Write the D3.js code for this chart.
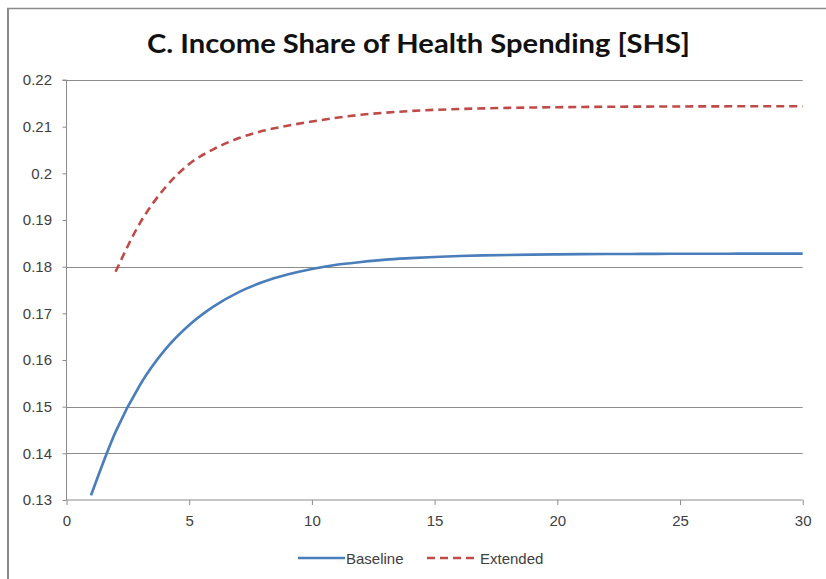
<!DOCTYPE html>
<html>
<head>
<meta charset="utf-8">
<script src="https://cdn.jsdelivr.net/npm/d3@7/dist/d3.min.js"></script>
<style>
  html, body { margin: 0; padding: 0; background: #fff; }
  svg { display: block; }
</style>
</head>
<body>
<svg id="chart" width="826" height="579"></svg>
<script>
// Periods (x) and income share of health spending for each scenario
const baselineX = [1,2,3,4,5,6,7,8,9,10,11,12,13,14,15,16,17,18,19,20,21,22,23,24,25,26,27,28,29,30];
const baselineY = [0.13100,0.14460,0.15470,0.16210,0.16750,0.17150,0.17450,0.17670,0.17830,0.17950,
                   0.18040,0.18100,0.18150,0.18182,0.18208,0.18227,0.18241,0.18251,0.18259,0.18264,
                   0.18268,0.18271,0.18273,0.18275,0.18276,0.18277,0.18278,0.18279,0.18279,0.18280];
const extendedX = [2,3,4,5,6,7,8,9,10,11,12,13,14,15,16,17,18,19,20,21,22,23,24,25,26,27,28,29,30];
const extendedY = [0.17890,0.18940,0.19680,0.20200,0.20520,0.20750,0.20910,0.21020,0.21110,0.21190,
                   0.21255,0.21300,0.21335,0.21360,0.21378,0.21392,0.21403,0.21411,0.21417,0.21422,
                   0.21426,0.21429,0.21431,0.21433,0.21435,0.21436,0.21437,0.21438,0.21439];
const seriesNames = ["Baseline", "Extended"];
const yTicks = [0.13,0.14,0.15,0.16,0.17,0.18,0.19,0.20,0.21,0.22];
const yTickLabels = ["0.13","0.14","0.15","0.16","0.17","0.18","0.19","0.2","0.21","0.22"];
const gridValues = [0.14,0.15,0.18,0.22];
const xTicks = [0,5,10,15,20,25,30];
const title = "C. Income Share of Health Spending [SHS]";

const svg = d3.select("#chart");
const plot = {left: 66.5, right: 802.7, top: 80, bottom: 500};

const x = d3.scaleLinear().domain([0, 30]).range([plot.left, plot.right]);
const y = d3.scaleLinear().domain([0.13, 0.22]).range([plot.bottom, plot.top]);

const axisColor = "#8c8c8c";
const textColor = "#404040";
const font = "'Liberation Sans', Arial, sans-serif";

// Frame (top and left edges)
svg.append("line").attr("x1", 7).attr("x2", 826).attr("y1", 8.5).attr("y2", 8.5)
  .attr("stroke", "#8a8a8a").attr("stroke-width", 1.5);
svg.append("line").attr("x1", 8).attr("x2", 8).attr("y1", 8).attr("y2", 579)
  .attr("stroke", "#8a8a8a").attr("stroke-width", 2);

// Title
svg.append("text")
  .attr("x", 147).attr("y", 53)
  .attr("font-family", "Lato, 'Open Sans', sans-serif")
  .attr("font-weight", "bold")
  .attr("font-size", 27)
  .attr("fill", "#111")
  .attr("textLength", 543)
  .attr("lengthAdjust", "spacingAndGlyphs")
  .text(title);

// Horizontal gridlines
svg.append("g").selectAll("line").data(gridValues).join("line")
  .attr("x1", plot.left).attr("x2", plot.right)
  .attr("y1", d => Math.round(y(d)) + 0.5).attr("y2", d => Math.round(y(d)) + 0.5)
  .attr("stroke", axisColor).attr("stroke-width", 1);

// Y axis
const yAxis = d3.axisLeft(y).tickValues(yTicks)
  .tickFormat((d, i) => yTickLabels[i]).tickSize(4).tickPadding(10.5);
const gy = svg.append("g").attr("transform", `translate(${plot.left},0)`).call(yAxis);
gy.select(".domain").attr("stroke", axisColor).attr("d", `M-4,${plot.top}H0V${plot.bottom}`);
gy.selectAll(".tick line").attr("stroke", axisColor);
gy.selectAll(".tick text").attr("font-family", font).attr("font-size", 15).attr("fill", textColor);

// X axis
const xAxis = d3.axisBottom(x).tickValues(xTicks).tickSize(5).tickPadding(10);
const gx = svg.append("g").attr("transform", `translate(0,${plot.bottom})`).call(xAxis);
gx.select(".domain").attr("stroke", axisColor).attr("d", `M${plot.left},0H${plot.right}`);
gx.selectAll(".tick line").attr("stroke", axisColor);
gx.selectAll(".tick text").attr("font-family", font).attr("font-size", 15).attr("fill", textColor);

// Series lines
const line = d3.line().x(d => x(d[0])).y(d => y(d[1])).curve(d3.curveMonotoneX);
const baseline = baselineX.map((v, i) => [v, baselineY[i]]);
const extended = extendedX.map((v, i) => [v, extendedY[i]]);

const blue = "#4a7ebb";
const red = "#be4b48";

svg.append("path").datum(baseline)
  .attr("d", line).attr("fill", "none")
  .attr("stroke", blue).attr("stroke-width", 2.6);
svg.append("path").datum(extended)
  .attr("d", line).attr("fill", "none")
  .attr("stroke", red).attr("stroke-width", 2.6)
  .attr("stroke-dasharray", "8,5");

// Legend
const legend = svg.append("g");
const legendItems = [
  {name: seriesNames[0], color: blue, dash: null, x0: 298, x1: 345},
  {name: seriesNames[1], color: red, dash: "8,5", x0: 427, x1: 479}
];
legendItems.forEach(it => {
  legend.append("line")
    .attr("x1", it.x0).attr("x2", it.x1).attr("y1", 558).attr("y2", 558)
    .attr("stroke", it.color).attr("stroke-width", 2.6)
    .attr("stroke-dasharray", it.dash);
  legend.append("text")
    .attr("x", it.x1 + 1).attr("y", 563.5)
    .attr("font-family", font).attr("font-size", 15).attr("fill", textColor)
    .text(it.name);
});
</script>
</body>
</html>
